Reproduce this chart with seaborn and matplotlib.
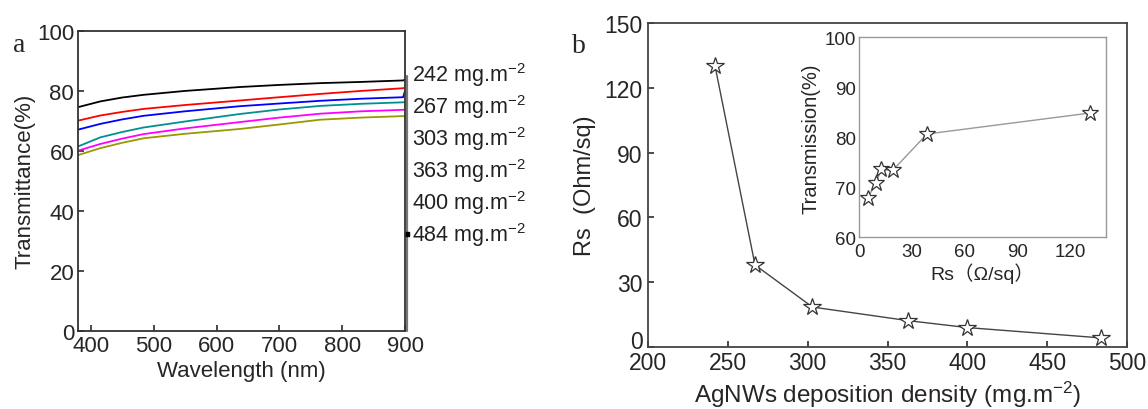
import numpy as np
import pandas as pd
import matplotlib
matplotlib.use("Agg")
import matplotlib.pyplot as plt
import matplotlib.transforms as mtransforms
import seaborn as sns

# ---- data ----
wavelength = [380, 415, 450, 484, 550, 637, 700, 765, 830, 897, 900]
densities = ["242", "267", "303", "363", "400", "484"]
t_242 = [74.6, 76.5, 77.8, 78.7, 80.0, 81.3, 82.0, 82.6, 83.0, 83.5, 83.8]
t_267 = [70.1, 71.8, 73.0, 74.0, 75.3, 76.8, 77.9, 79.0, 80.0, 80.9, 81.1]
t_303 = [67.1, 69.0, 70.5, 71.7, 73.2, 74.9, 75.8, 76.7, 77.4, 77.9, 80.0]
t_363 = [61.5, 64.5, 66.3, 67.8, 69.8, 72.3, 73.8, 75.0, 75.7, 76.2, 76.3]
t_400 = [60.1, 62.3, 64.1, 65.6, 67.5, 69.6, 71.1, 72.4, 73.2, 73.7, 73.8]
t_484 = [58.6, 60.9, 62.7, 64.2, 65.7, 67.3, 68.8, 70.4, 71.1, 71.6, 71.5]
curve_colors = ["black", "#ff0000", "#0000ff", "#009090", "#ff00ff", "#999900"]

density = [242, 267, 303, 363, 400, 484]
rs = [130, 38, 18.5, 12.2, 9, 4.2]

inset_rs = [4.8, 9.5, 12.5, 19, 38.5, 131]
inset_trans = [67.9, 70.8, 73.6, 73.4, 80.7, 84.9]

sns.set_theme(style="white")
plt.rcParams["font.family"] = ["Liberation Sans", "Noto Sans CJK SC", "DejaVu Sans"]
plt.rcParams["mathtext.fontset"] = "custom"
plt.rcParams["mathtext.rm"] = "Liberation Sans"
plt.rcParams["mathtext.it"] = "Liberation Sans"

fig = plt.figure(figsize=(11.48, 4.10), dpi=100)

# ---------------- panel a ----------------
ax1 = fig.add_axes([0.0682, 0.191, 0.2846, 0.731])
rows = []
for name, vals in zip(densities, [t_242, t_267, t_303, t_363, t_400, t_484]):
    for w, t in zip(wavelength, vals):
        rows.append({"wl": w, "T": t, "density": name})
spec = pd.DataFrame(rows)
sns.lineplot(data=spec, x="wl", y="T", hue="density", palette=curve_colors,
             legend=False, linewidth=1.3, ax=ax1)
ax1.set_xlim(380, 900)
ax1.set_ylim(0, 100)
ax1.set_xticks([400, 500, 600, 700, 800, 900])
ax1.set_yticks([0, 20, 40, 60, 80, 100])
ax1.set_xlabel("Wavelength (nm)", fontsize=16, labelpad=3)
ax1.set_ylabel("Transmittance(%)", fontsize=16, labelpad=1)
ax1.tick_params(direction="in", length=4, labelsize=16, pad=3,
                left=True, bottom=True, color="#333333")
for s in ax1.spines.values():
    s.set_color("#333333")
    s.set_linewidth(1.3)

# labels on the right of panel a
label_y = np.linspace(85.6, 32.3, len(densities))
ax1.plot([902.7, 902.7], [label_y[0] - 0.5, 0], color="#777777", lw=1.6, clip_on=False)
ax1.plot([902.7], [label_y[-1]], marker="s", ms=3, color="black", clip_on=False)
for y, name in zip(label_y, densities):
    ax1.text(910.7, y, name + " mg.m$^{-2}$", fontsize=15.5, va="center", ha="left",
             color="#222222", clip_on=False)
ax1.text(-0.2, 0.955, "a", transform=ax1.transAxes, fontsize=20,
         family="Liberation Serif", va="center", ha="left")

# ---------------- panel b ----------------
ax2 = fig.add_axes([0.5645, 0.1512, 0.4172, 0.790])
main = pd.DataFrame({"density": density, "Rs": rs})
sns.lineplot(data=main, x="density", y="Rs", color="#444444", linewidth=1.0,
             marker="*", markersize=13, markerfacecolor="white",
             markeredgecolor="#333333", markeredgewidth=0.9, ax=ax2)
ax2.set_xlim(200, 500)
ax2.set_ylim(0, 150)
ax2.set_xticks([200, 250, 300, 350, 400, 450, 500])
ax2.set_yticks([0, 30, 60, 90, 120, 150])
ax2.set_xlabel("AgNWs deposition density (mg.m$^{-2}$)", fontsize=17.5)
ax2.xaxis.set_label_coords(0.5, -0.098)
ax2.set_ylabel("Rs  (Ohm/sq)", fontsize=17, labelpad=6)
ax2.tick_params(direction="in", length=4, labelsize=16.5, pad=3,
                left=True, bottom=True, color="#333333")
ax2.tick_params(axis="y", pad=4)
# the "0" sits just above the "200" in the reference
zero_lbl = ax2.yaxis.get_major_ticks()[0].label1
zero_lbl.set_transform(zero_lbl.get_transform()
                       + mtransforms.ScaledTranslation(0, 0.085, fig.dpi_scale_trans))
for s in ax2.spines.values():
    s.set_color("#444444")
    s.set_linewidth(1.3)
ax2.text(-0.158, 0.93, "b", transform=ax2.transAxes, fontsize=20,
         family="Liberation Serif", va="center", ha="left")

# inset
ax3 = fig.add_axes([0.7483, 0.4183, 0.2152, 0.4878])
ins = pd.DataFrame({"Rs": inset_rs, "T": inset_trans})
sns.lineplot(data=ins, x="Rs", y="T", color="#999999", linewidth=1.0,
             marker="*", markersize=12, markerfacecolor="white",
             markeredgecolor="#333333", markeredgewidth=0.9, ax=ax3)
ax3.set_xlim(0, 140)
ax3.set_ylim(60, 100)
ax3.set_xticks([0, 30, 60, 90, 120])
ax3.set_yticks([60, 70, 80, 90, 100])
ax3.set_xlabel("Rs（Ω/sq）", fontsize=14)
ax3.xaxis.set_label_coords(0.5, -0.125)
ax3.set_ylabel("Transmission(%)", fontsize=14.5, labelpad=3)
ax3.tick_params(direction="in", length=0, labelsize=13.5, pad=2)
ax3.tick_params(axis="x", pad=4)
for s in ax3.spines.values():
    s.set_color("#999999")
    s.set_linewidth(1.0)

fig.savefig("out.png", dpi=100)
